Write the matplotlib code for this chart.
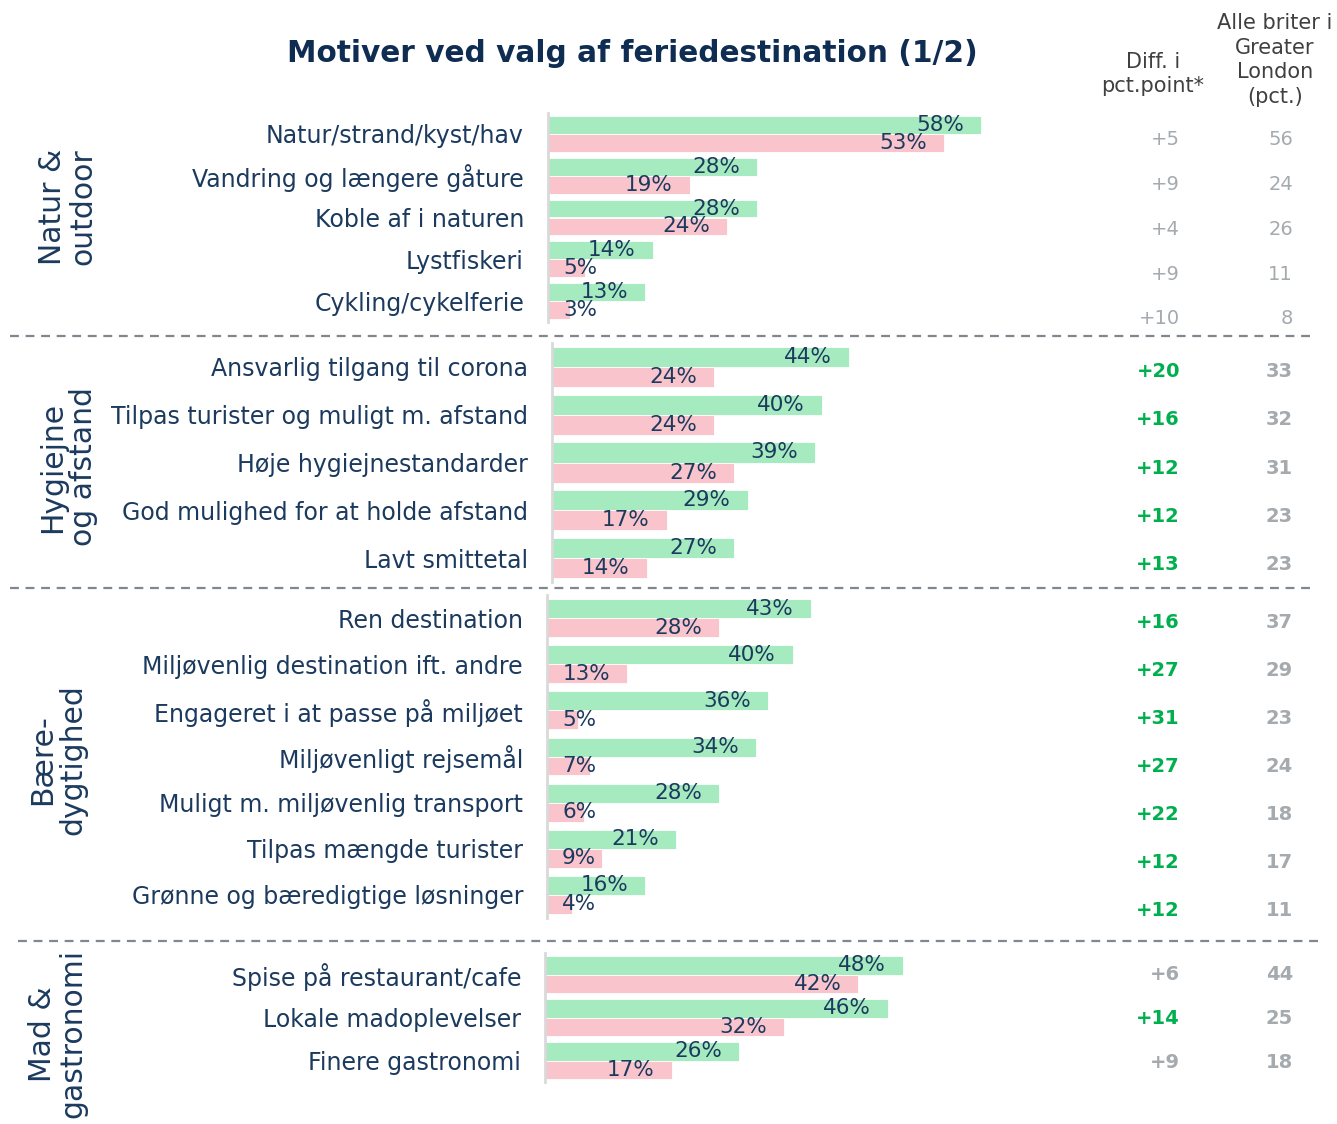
import matplotlib
matplotlib.use("Agg")
import matplotlib.pyplot as plt
import matplotlib.transforms as mtransforms
from matplotlib.lines import Line2D

plt.rcParams['font.family'] = ['DejaVu Sans']

NAVY = '#1b3a5e'
GREEN_BAR = '#a6eac0'
PINK_BAR = '#f9c4cc'
GREY = '#a5aaae'
SIG_GREEN = '#00b04f'

W, H = 1337, 1124

# --- data -------------------------------------------------------------
title = 'Motiver ved valg af feriedestination (1/2)'
head_diff = 'Diff. i\npct.point*'
head_london = 'Alle briter i\nGreater\nLondon\n(pct.)'

groups = ['Natur &\noutdoor', 'Hygiejne\nog afstand', 'Bære-\ndygtighed', 'Mad &\ngastronomi']

nature_labels = ['Natur/strand/kyst/hav', 'Vandring og længere gåture', 'Koble af i naturen',
                 'Lystfiskeri', 'Cykling/cykelferie']
nature_green = [58, 28, 28, 14, 13]
nature_pink = [53, 19, 24, 5, 3]
nature_diff = [5, 9, 4, 9, 10]
nature_london = [56, 24, 26, 11, 8]
nature_sig = [False, False, False, False, False]

hyg_labels = ['Ansvarlig tilgang til corona', 'Tilpas turister og muligt m. afstand',
              'Høje hygiejnestandarder', 'God mulighed for at holde afstand', 'Lavt smittetal']
hyg_green = [44, 40, 39, 29, 27]
hyg_pink = [24, 24, 27, 17, 14]
hyg_diff = [20, 16, 12, 12, 13]
hyg_london = [33, 32, 31, 23, 23]
hyg_sig = [True, True, True, True, True]

sus_labels = ['Ren destination', 'Miljøvenlig destination ift. andre', 'Engageret i at passe på miljøet',
              'Miljøvenligt rejsemål', 'Muligt m. miljøvenlig transport', 'Tilpas mængde turister',
              'Grønne og bæredigtige løsninger']
sus_green = [43, 40, 36, 34, 28, 21, 16]
sus_pink = [28, 13, 5, 7, 6, 9, 4]
sus_diff = [16, 27, 31, 27, 22, 12, 12]
sus_london = [37, 29, 23, 24, 18, 17, 11]
sus_sig = [True, True, True, True, True, True, True]

food_labels = ['Spise på restaurant/cafe', 'Lokale madoplevelser', 'Finere gastronomi']
food_green = [48, 46, 26]
food_pink = [42, 32, 17]
food_diff = [6, 14, 9]
food_london = [44, 25, 18]
food_sig = [False, True, False]

# --- layout (pixels) --------------------------------------------------
layout = [
    dict(left=548, top=113, bottom=322, scale=7.47, bh=0.43, label_y=207, label_x=68,
         t_top=116.5, t_bot=341.5, bold=False),
    dict(left=552, top=343, bottom=582, scale=6.75, bh=0.42, label_y=467, label_x=68,
         t_top=346.75, t_bot=589.25, bold=True),
    dict(left=547, top=595, bottom=918, scale=6.14, bh=0.41, label_y=760, label_x=58,
         t_top=599, t_bot=935, bold=True),
    dict(left=545, top=953, bottom=1082, scale=7.46, bh=0.43, label_y=1034, label_x=58,
         t_top=951.75, t_bot=1085.25, bold=True),
]

data = [
    (nature_labels, nature_green, nature_pink, nature_diff, nature_london, nature_sig),
    (hyg_labels, hyg_green, hyg_pink, hyg_diff, hyg_london, hyg_sig),
    (sus_labels, sus_green, sus_pink, sus_diff, sus_london, sus_sig),
    (food_labels, food_green, food_pink, food_diff, food_london, food_sig),
]

fig = plt.figure(figsize=(W / 100, H / 100), dpi=100)
PT = 0.72  # points per pixel at dpi 100


def rect(left, top, right, bottom):
    return [left / W, 1 - bottom / H, (right - left) / W, (bottom - top) / H]


def bar_label(ax, v, y):
    # small values get pushed out to the right of the axis
    if v < 10:
        ax.annotate(f'{v}%', (0, y), xytext=(15 * PT, 0), textcoords='offset points',
                    ha='left', va='center', fontsize=15.5, color=NAVY)
    else:
        ax.annotate(f'{v}%', (v, y), xytext=(-17 * PT, 0), textcoords='offset points',
                    ha='right', va='center', fontsize=15.5, color=NAVY)


for g, (lay, (labels, green, pink, diff, london, sig)) in enumerate(zip(layout, data)):
    n = len(labels)
    xmax = 60
    right = lay['left'] + lay['scale'] * xmax
    ax = fig.add_axes(rect(lay['left'], lay['top'], right, lay['bottom']))
    unit = (lay['bottom'] - lay['top']) / n
    pad = 0.5 * ((lay['bottom'] - lay['top']) - unit * (n - 1)) / unit
    ys = list(range(n))
    bh = lay['bh']
    ax.barh([y - bh / 2 for y in ys], green, height=bh, color=GREEN_BAR, edgecolor='white',
            linewidth=0.6)
    ax.barh([y + bh / 2 for y in ys], pink, height=bh, color=PINK_BAR, edgecolor='white',
            linewidth=0.6)
    for y, gv, pv in zip(ys, green, pink):
        bar_label(ax, gv, y - bh / 2)
        bar_label(ax, pv, y + bh / 2)
    ax.set_xlim(0, xmax)
    ax.set_ylim(n - 1 + pad, -pad)
    ax.set_yticks(ys)
    ax.set_yticklabels(labels, fontsize=17, color=NAVY)
    ax.tick_params(axis='y', length=0, pad=24 * PT)
    ax.set_xticks([])
    for s in ['top', 'right', 'bottom']:
        ax.spines[s].set_visible(False)
    ax.spines['left'].set_color('#d9d9d9')
    ax.spines['left'].set_linewidth(2)

    # group label
    fig.text(lay['label_x'] / W, 1 - lay['label_y'] / H, groups[g], rotation=90,
             ha='center', va='center', fontsize=21.5, color=NAVY, linespacing=1.05)

    # table columns
    tax = fig.add_axes(rect(1100, lay['t_top'], 1320, lay['t_bot']))
    tax.set_ylim(n - 0.5, -0.5)
    tax.set_xlim(0, 1)
    tax.axis('off')
    tr = mtransforms.blended_transform_factory(fig.transFigure, tax.transData)
    weight = 'bold' if lay['bold'] else 'normal'
    for y, d, l, s in zip(ys, diff, london, sig):
        tax.text(1180 / W, y, f'+{d}', transform=tr, ha='right', va='center', fontsize=14,
                 color=SIG_GREEN if s else GREY, fontweight=weight)
        tax.text(1293 / W, y, f'{l}', transform=tr, ha='right', va='center', fontsize=14,
                 color=GREY, fontweight=weight)

# separators
for y, x0, x1 in [(336, 10, 1315), (588, 10, 1315), (941, 18, 1320)]:
    fig.add_artist(Line2D([x0 / W, x1 / W], [1 - y / H, 1 - y / H], transform=fig.transFigure,
                          color='#7f8891', linewidth=1.6, linestyle=(0, (4, 3))))

fig.text(632 / W, 1 - 54 / H, title, ha='center', va='center', fontsize=21.3,
         fontweight='bold', color='#0f2d52')
fig.text(1153 / W, 1 - 74 / H, head_diff, ha='center', va='center', fontsize=15,
         color='#404040', linespacing=1.3)
fig.text(1275 / W, 1 - 60 / H, head_london, ha='center', va='center', fontsize=15,
         color='#404040', linespacing=1.3)

fig.savefig('out.png', dpi=100)
